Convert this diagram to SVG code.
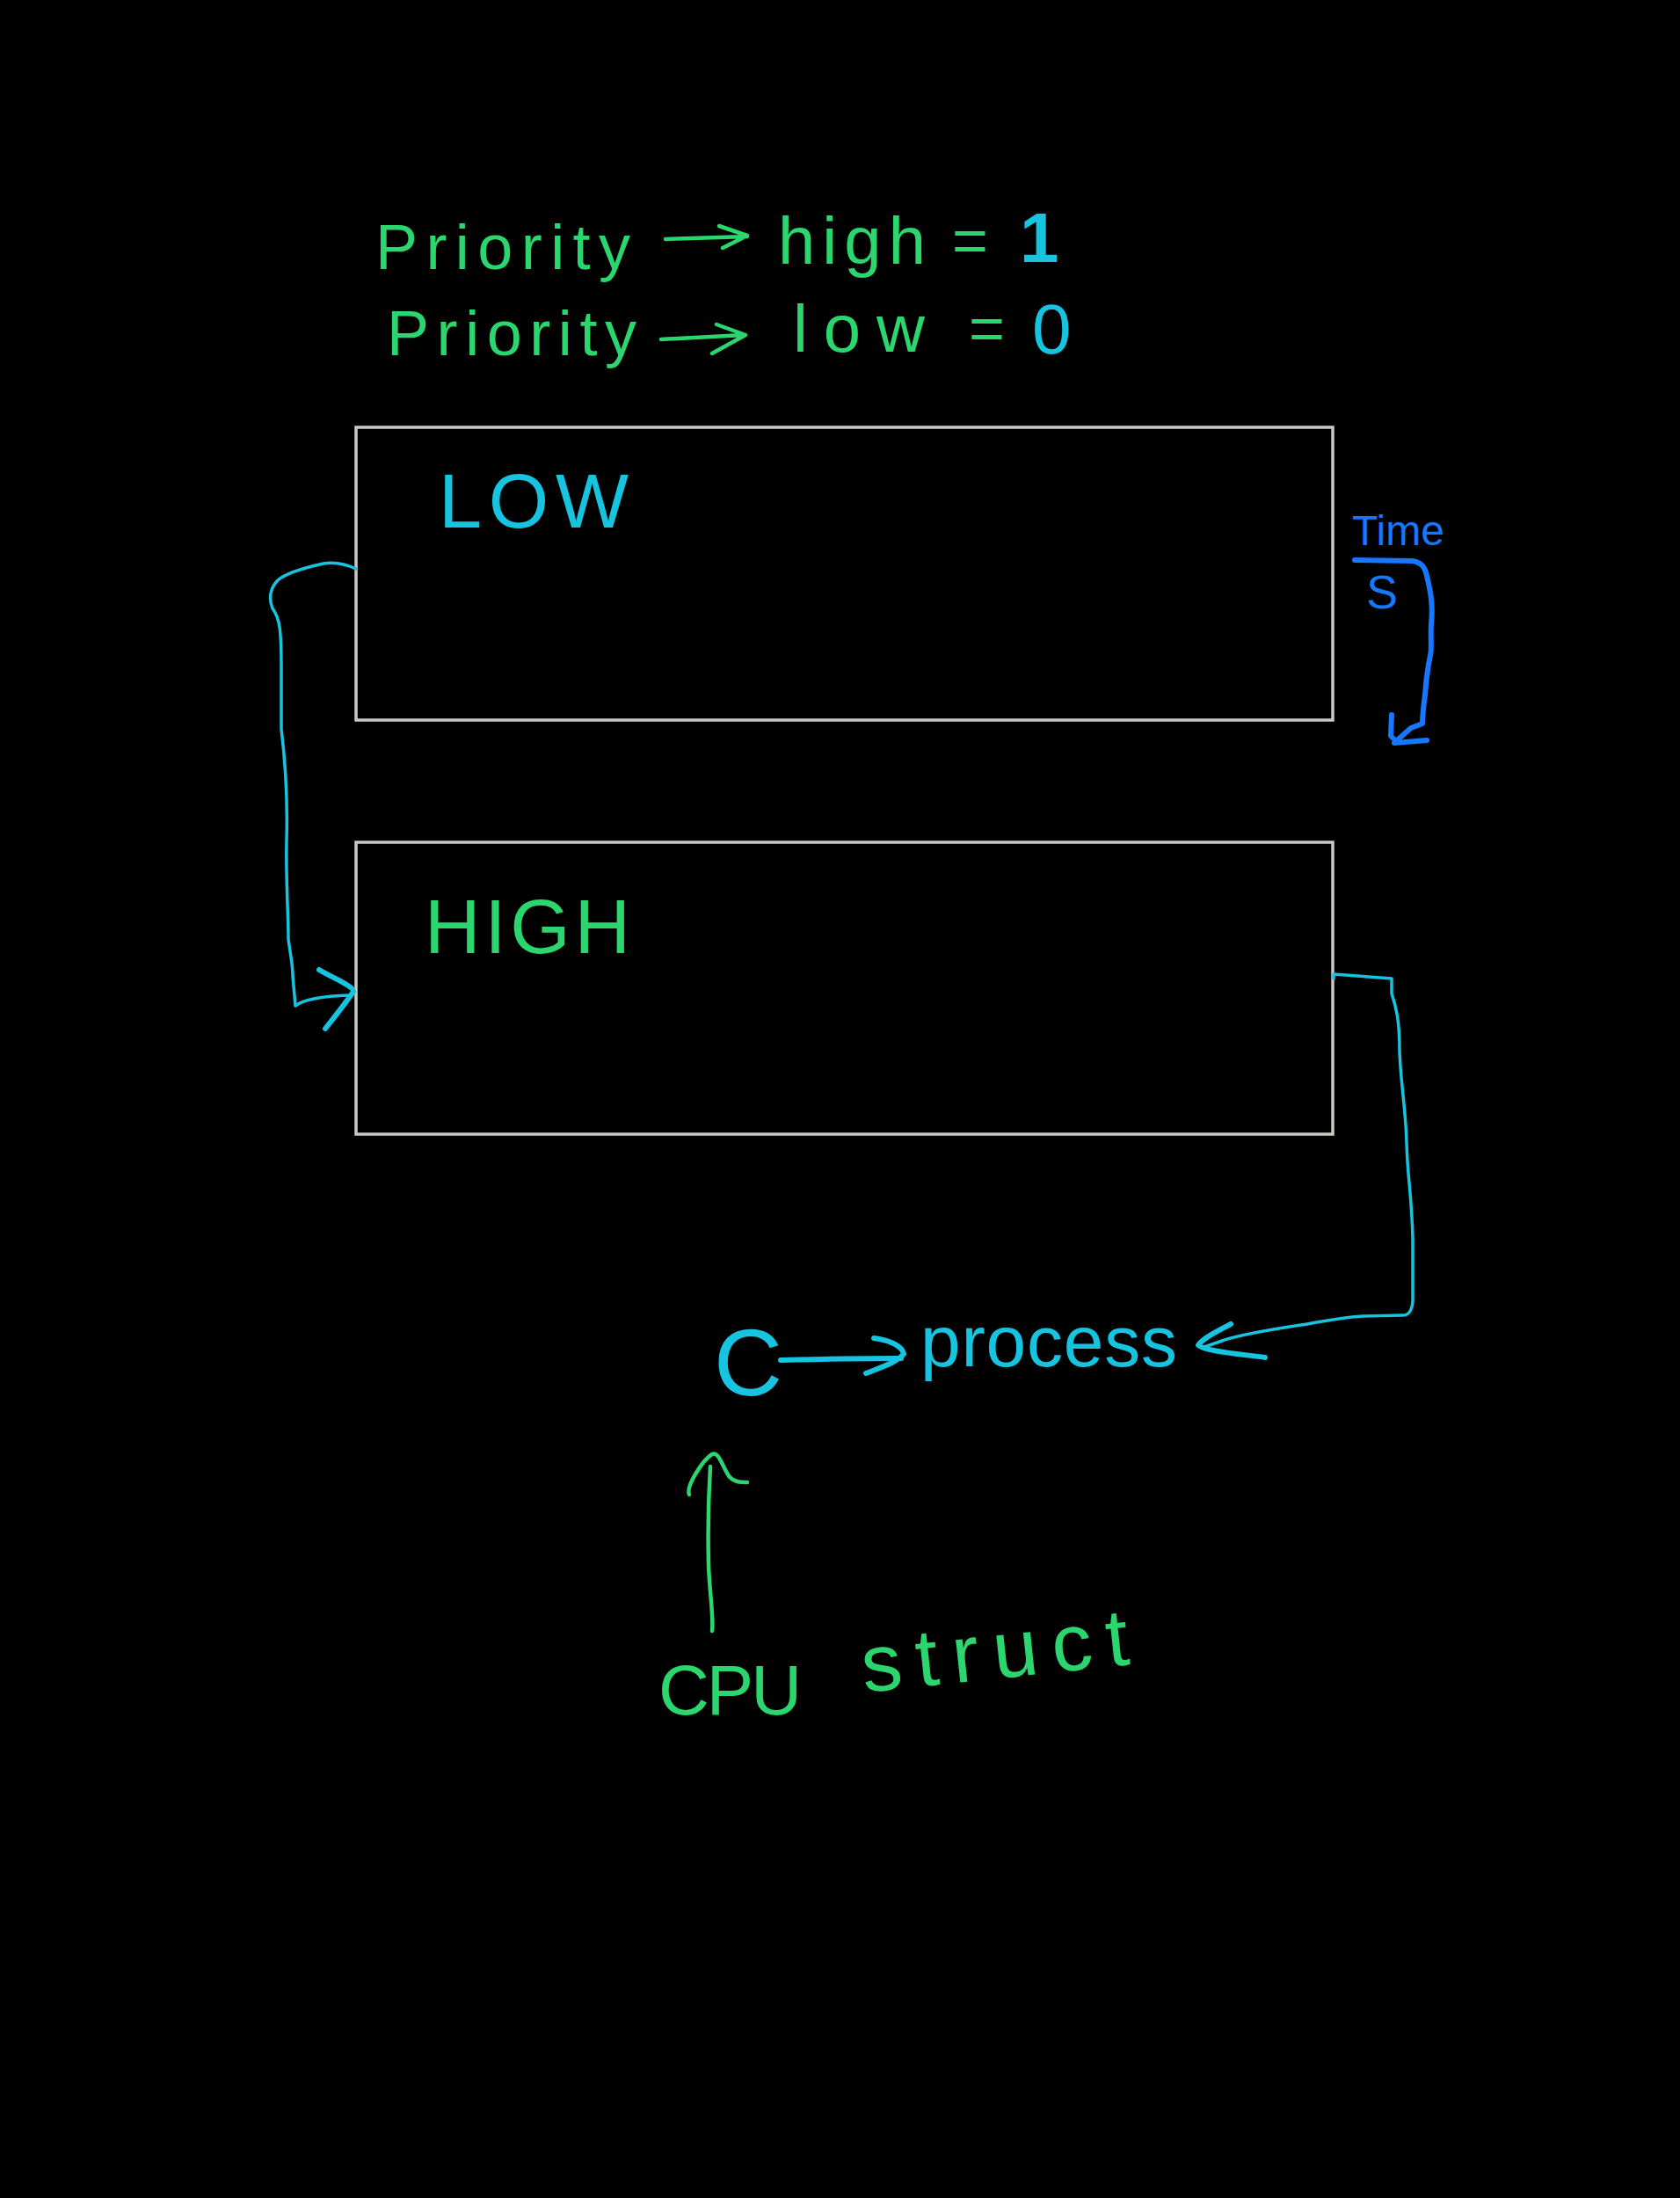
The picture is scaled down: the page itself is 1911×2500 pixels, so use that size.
<svg xmlns="http://www.w3.org/2000/svg" width="1911" height="2500" viewBox="0 0 1911 2500">
<style>
.g{fill:#2bd66f;font-family:"Liberation Sans","DejaVu Sans",sans-serif;}
.c{fill:#17c4e0;font-family:"Liberation Sans","DejaVu Sans",sans-serif;}
.b{fill:#1677ff;font-family:"Liberation Sans","DejaVu Sans",sans-serif;}
.box{fill:none;stroke:#cdc8c2;stroke-width:3.5;}
.lc{fill:none;stroke:#17c4e0;stroke-width:3.5;stroke-linecap:round;stroke-linejoin:round;}
.lcb{fill:none;stroke:#17c4e0;stroke-width:6;stroke-linecap:round;stroke-linejoin:round;}
.lg{fill:none;stroke:#2bd66f;stroke-width:4.5;stroke-linecap:round;stroke-linejoin:round;}
.lb{fill:none;stroke:#1677ff;stroke-width:6;stroke-linecap:round;stroke-linejoin:round;}
</style>
<rect x="0" y="0" width="1911" height="2500" fill="#000"/>

<g id="legend">
  <text class="g" x="427" y="306" font-size="72" textLength="290" lengthAdjust="spacing">Priority</text>
  <path class="lg" d="M757,272 L850,269 M818,257 L850,268 L822,282"/>
  <text class="g" x="885" y="300" font-size="76" textLength="168" lengthAdjust="spacing">high</text>
  <text class="g" x="1083" y="298" font-size="70">=</text>
  <text class="c" x="1160" y="298" font-size="80" font-weight="bold">1</text>
  <text class="g" x="440" y="404" font-size="72" textLength="284" lengthAdjust="spacing">Priority</text>
  <path class="lg" d="M752,386 L846,381 M815,369 L848,381 L810,402"/>
  <text class="g" x="902" y="400" font-size="76" textLength="150" lengthAdjust="spacing">low</text>
  <text class="g" x="1102" y="398" font-size="70">=</text>
  <text class="c" x="1174" y="402" font-size="80">0</text>
</g>

<g id="low-queue">
  <rect class="box" x="405" y="486" width="1111" height="333"/>
  <text class="c" x="499" y="600" font-size="88" textLength="216" lengthAdjust="spacing">LOW</text>
</g>

<g id="high-queue">
  <rect class="box" x="405" y="958" width="1111" height="332"/>
  <text class="g" x="483" y="1084" font-size="88" textLength="234" lengthAdjust="spacing">HIGH</text>
</g>

<g id="time-label">
  <text class="b" x="1538" y="620" font-size="48">Time</text>
  <text class="b" x="1554" y="692" font-size="54">S</text>
</g>

<g id="c-process">
  <text class="c" x="812" y="1587" font-size="108">C</text>
  <text class="c" x="1047" y="1554" font-size="82" textLength="292" lengthAdjust="spacing">process</text>
</g>

<g id="cpu-struct">
  <text class="g" x="749" y="1950" font-size="80" textLength="163" lengthAdjust="spacing">CPU</text>
  <text class="g" x="983" y="1925" font-size="92" textLength="305" lengthAdjust="spacing" transform="rotate(-6 983 1925)">struct</text>
</g>

<g id="connectors">
  <path class="lc" d="M405,647 C392,641 380,639 368,641 C345,646 325,652 316,660 C308,668 305,680 310,692 C318,703 320,715 320,760 L320,829 C325,870 327,920 326,956 C325,1000 328,1040 328,1068 C330,1085 333,1095 333,1110 L336,1144 C345,1137 365,1133 398,1132"/>
  <path class="lcb" d="M363,1103 C378,1112 390,1116 400,1124 M370,1170 C382,1155 392,1142 402,1128"/>
  <path class="lc" d="M1517,1113 L1517,1108 L1583,1113 L1583,1130 C1588,1145 1592,1160 1592,1195 C1593,1230 1599,1260 1600,1300 C1601,1340 1606,1360 1607,1410 L1607,1480 C1606,1492 1602,1496 1595,1496 L1550,1497 C1520,1499 1505,1503 1480,1507 C1440,1513 1410,1518 1390,1525 L1370,1532"/>
  <path class="lcb" d="M1400,1506 C1385,1514 1368,1522 1363,1530 C1370,1537 1410,1540 1439,1544"/>
  <path class="lb" d="M1541,637 L1607,638 C1617,640 1621,645 1623,655 C1628,675 1630,690 1628,710 C1627,725 1629,738 1627,745 C1624,760 1622,775 1621,790 C1619,805 1618,815 1618,823 L1605,828 L1588,843"/>
  <path class="lb" d="M1583,813 L1582,837 L1588,843 M1586,845 L1623,842"/>
  <path class="lcb" d="M888,1547 C930,1546 990,1545 1025,1545"/>
  <path class="lcb" d="M994,1522 C1010,1524 1026,1530 1028,1540 C1020,1550 1000,1556 985,1562"/>
  <path class="lg" d="M810,1855 C812,1840 807,1810 806,1780 C805,1740 806,1700 808,1668"/>
  <path class="lg" d="M784,1700 C780,1690 800,1660 810,1654 C818,1650 822,1670 830,1680 C836,1686 842,1686 850,1686"/>
</g>
</svg>
